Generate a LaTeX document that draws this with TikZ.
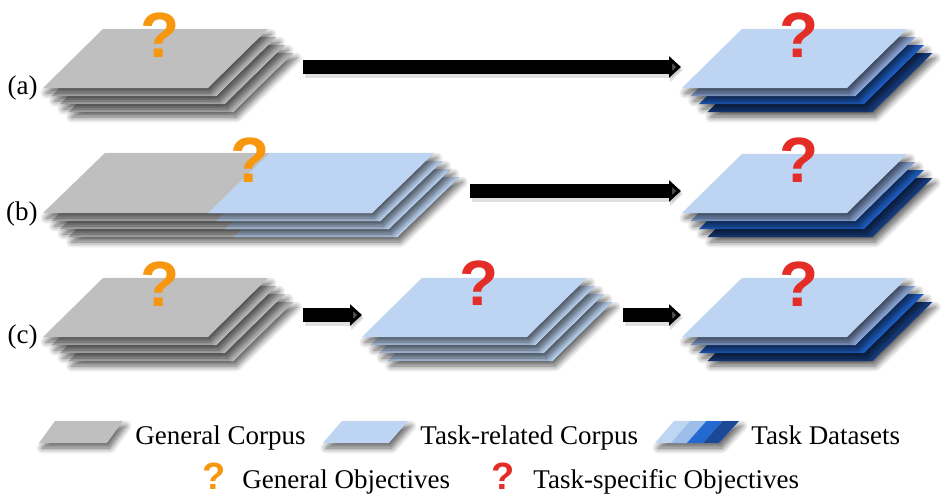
\documentclass[tikz,border=0pt]{standalone}
\usepackage{fontspec}
\setmainfont{Liberation Serif}
\newfontfamily\qfont{Liberation Sans}
\usetikzlibrary{shadows.blur,arrows.meta}
\definecolor{gc}{HTML}{BFBFBF}
\definecolor{lb}{HTML}{BDD5F3}
\definecolor{mb}{HTML}{8FAADC}
\definecolor{db}{HTML}{1F60C6}
\definecolor{nb}{HTML}{173E82}
\definecolor{s1}{HTML}{BED6F3}
\definecolor{s2}{HTML}{9DBEEA}
\definecolor{s3}{HTML}{2469D0}
\definecolor{s4}{HTML}{1B4996}
\definecolor{qo}{HTML}{F7960F}
\definecolor{qr}{HTML}{E52D27}
\newcommand\sheetstack[6]{%
  \foreach \k/\c in {3/#6,2/#5,1/#4,0/#3}{%
    \fill[sheet,fill=\c] ({#1+8.5*\k},{#2+8*\k}) -- ++(165,0) -- ++(60,-59) -- ++(-165,0) -- cycle;}}
\newcommand\mixedstack[2]{%
  \foreach \k in {3,2,1,0}{%
    \fill[sheet,fill=gc] ({#1+8.5*\k},{#2+8*\k}) -- ++(329,0) -- ++(62,-60) -- ++(-329,0) -- cycle;
    \fill[fill=lb] ({#1+165+8.5*\k},{#2+8*\k}) -- ++(164,0) -- ++(62,-60) -- ++(-164,0) -- cycle;}}
\begin{document}
\begin{tikzpicture}[x=0.5pt,y=-0.5pt,
  sheet/.style={blur shadow={shadow xshift=1.5pt,shadow yshift=-2.5pt,shadow blur radius=3pt,shadow blur steps=8,shadow opacity=62}},
  qmark/.style={font=\qfont\bfseries\fontsize{32pt}{32pt}\selectfont,anchor=base,inner sep=0pt},
  qsmall/.style={font=\qfont\bfseries\fontsize{19pt}{19pt}\selectfont,anchor=base,inner sep=0pt},
  lbl/.style={font=\fontsize{13.5pt}{16pt}\selectfont,inner sep=0pt},
  bigarrow/.style={line width=7pt,-{Triangle[length=6pt,width=10.5pt]}},
  arrowshade/.style={line width=8pt,-{Triangle[length=6.5pt,width=12pt]},draw=black!40,opacity=0.3}]
\useasboundingbox (0,0) rectangle (943,498);
% row (a)
\sheetstack{43}{88}{gc}{gc}{gc}{gc}
\sheetstack{682}{88}{lb}{mb}{db}{nb}
\node[qmark,text=qo] (qa1) at (160,57) {?};
\node[qmark,text=qr] (qa2) at (799,57) {?};
\node[lbl,anchor=east] (la) at (38,88) {(a)};
\coordinate (a1) at (303,67);
\coordinate (a2) at (681,67);
% row (b)
\mixedstack{43}{213}
\sheetstack{682}{213}{lb}{mb}{db}{nb}
\node[qmark,text=qo] (qb1) at (250,182) {?};
\node[qmark,text=qr] (qb2) at (799,182) {?};
\node[lbl,anchor=east] (lbb) at (38,214) {(b)};
\coordinate (b1) at (470,191);
\coordinate (b2) at (681,191);
% row (c)
\sheetstack{43}{337}{gc}{gc}{gc}{gc}
\sheetstack{362}{337}{lb}{lb}{lb}{lb}
\sheetstack{682}{337}{lb}{mb}{db}{nb}
\node[qmark,text=qo] (qc1) at (160,306) {?};
\node[qmark,text=qr] (qc2) at (479,305) {?};
\node[qmark,text=qr] (qc3) at (799,306) {?};
\node[lbl,anchor=east] (lc) at (38,337) {(c)};
\coordinate (c1) at (303,315);
\coordinate (c2) at (362,315);
\coordinate (c3) at (623,315);
\coordinate (c4) at (681,315);
% arrows
\foreach \p/\q in {a1/a2,b1/b2,c1/c2,c3/c4}{
  \draw[arrowshade] ([shift={(2,3)}]\p) -- ([shift={(2,3)}]\q);
  \draw[bigarrow] (\p) -- (\q);}
% legend
\fill[sheet,fill=gc] (39,443) -- (107,443) -- (123,421) -- (55,421) -- cycle;
\node[lbl,anchor=base west] (lg1) at (135,444) {General Corpus};
\fill[sheet,fill=lb] (323,443) -- (389,443) -- (408,421) -- (342,421) -- cycle;
\node[lbl,anchor=base west] (lg2) at (420,444) {Task-related Corpus};
\fill[sheet,fill=s1] (655,443) -- (719,443) -- (739,421) -- (674,421) -- cycle;
\foreach \k/\c in {1/s2,2/s3,3/s4}{
  \fill[fill=\c] ({655+16*\k},443) -- ({655+16*(\k+1)},443) -- ({674+16.25*(\k+1)},421) -- ({674+16.25*\k},421) -- cycle;}
\node[lbl,anchor=base west] (lg3) at (751,444) {Task Datasets};
\node[qsmall,text=qo] (lq1) at (214,489) {?};
\node[lbl,anchor=base west] (lg4) at (242,488) {General Objectives};
\node[qsmall,text=qr] (lq2) at (503,489) {?};
\node[lbl,anchor=base west] (lg5) at (533,488) {Task-specific Objectives};
\end{tikzpicture}
\end{document}
